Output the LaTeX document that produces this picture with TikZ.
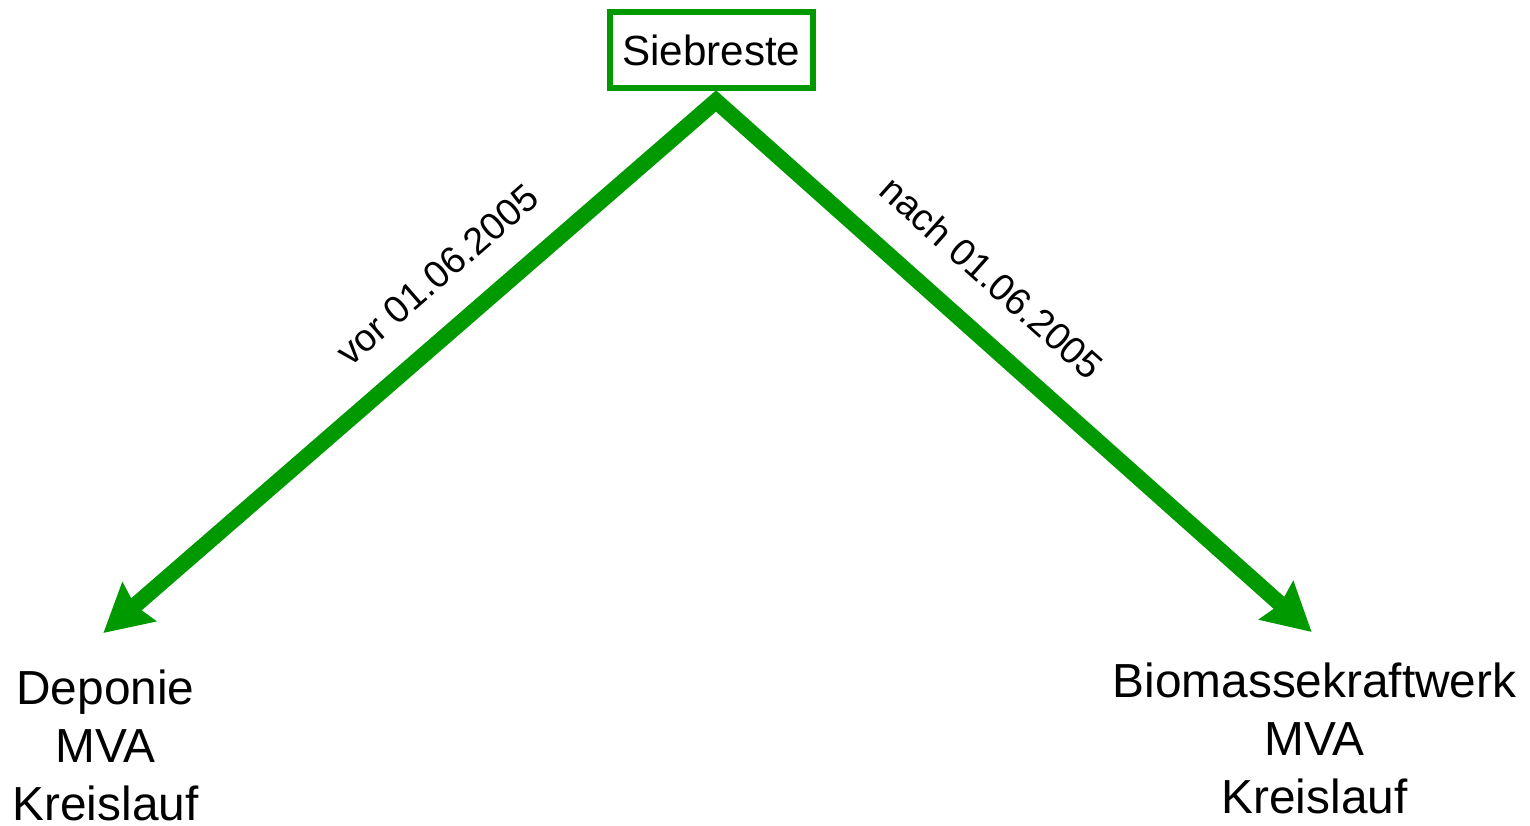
\documentclass[tikz,border=0pt]{standalone}
\usepackage{fontspec}
\setmainfont{Liberation Sans}
\usetikzlibrary{arrows.meta}
\definecolor{siebgruen}{RGB}{0,153,0}

\begin{document}
\begin{tikzpicture}
    \tikzstyle{every node} = [inner sep=0pt]
    \tikzstyle{quelle} = [draw=siebgruen, line width=1.7pt, rectangle, minimum width=2.03cm, minimum height=0.756cm, font=\fontsize{12}{14.4}\selectfont]
    \tikzstyle{ziel} = [align=center, font=\fontsize{13.6}{16.45}\selectfont]
    \tikzstyle{datum} = [sloped, above=0.3cm, text=black, font=\fontsize{10.8}{13}\selectfont]
    \useasboundingbox (0,0) rectangle (15.3,-8.26);
    % place nodes
    \node[quelle](siebreste) at (7.113,-0.50){Siebreste};
    \node[ziel,anchor=base](deponie) at (1.055,-8.20){Deponie\\MVA\\Kreislauf};
    \node[ziel,anchor=base](biomasse) at (13.145,-8.13){Biomassekraftwerk\\MVA\\Kreislauf};
    \coordinate (abzweig) at ([shift={(0.047,-0.102)}]siebreste.south);
    \coordinate (spitzeL) at ([shift={(-0.022,0.36)}]deponie.north);
    \coordinate (spitzeR) at ([shift={(-0.028,0.30)}]biomasse.north);

    % Connections
    \draw[{Stealth[length=0.47cm,width=0.5cm,inset=0.05cm]}-{Stealth[length=0.47cm,width=0.5cm,inset=0.05cm]},line width=0.16cm,siebgruen]
    (spitzeL)--node[datum,pos=0.6]{vor 01.06.2005}(abzweig)--node[datum,pos=0.405]{nach 01.06.2005}(spitzeR);
\end{tikzpicture}
\end{document}
